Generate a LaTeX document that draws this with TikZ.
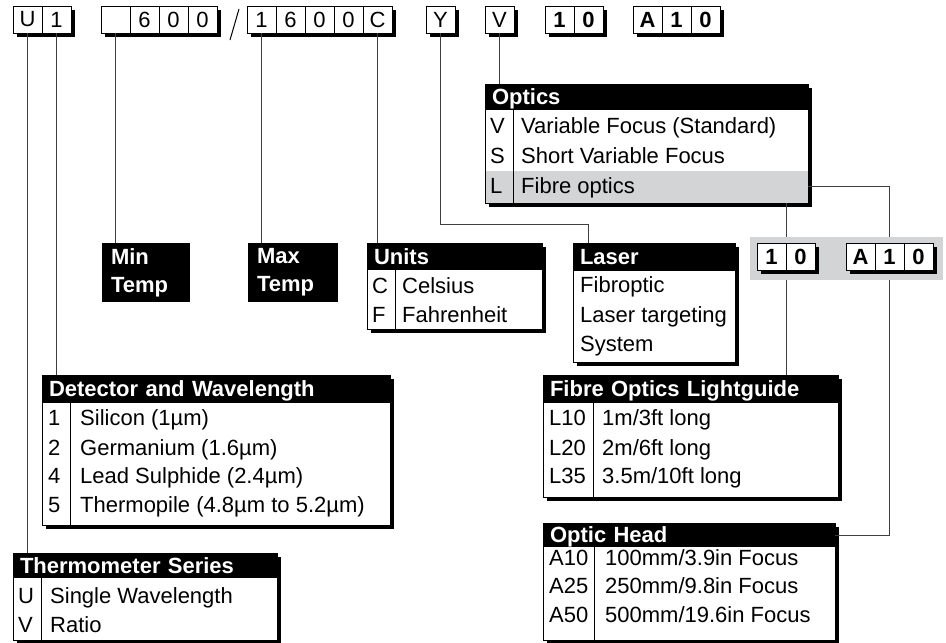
\documentclass[tikz,border=0pt]{standalone}
\usepackage{fontspec}
\setmainfont{Liberation Sans}
\usetikzlibrary{positioning,shadows}
\definecolor{cline}{HTML}{3F3F3F}
\definecolor{cpanel}{HTML}{D3D4D6}

\begin{document}
\begin{tikzpicture}[
  x=1pt, y=-1pt,
  every node/.style={font=\fontsize{22}{28}\selectfont},
  shadowed/.style={drop shadow={opacity=1, fill=black, shadow xshift=3.5pt, shadow yshift=-3.5pt}},
  cell/.style={draw, fill=white, line width=0.8pt, shadowed, minimum width=29, minimum height=27,
               inner sep=0pt, outer sep=0pt, font=\fontsize{22}{26}\selectfont},
  cellb/.style={cell, font=\fontsize{22}{26}\selectfont\bfseries},
  frame/.style={draw, fill=white, line width=0.8pt, shadowed, anchor=north west, inner sep=0pt, outer sep=0pt},
  head/.style={fill=black, text=white, anchor=north west, align=left, outer sep=0pt, inner xsep=7pt,
               inner ysep=0pt, text height=15, text depth=0, font=\fontsize{22}{28}\selectfont\bfseries},
  dark/.style={fill=black, text=white, anchor=north west, align=left, outer sep=0pt, inner xsep=9pt,
               minimum height=59, font=\fontsize{22}{28}\selectfont\bfseries},
  txt/.style={anchor=base west, inner sep=0pt},
  link/.style={draw=cline, line width=1pt},
  split/.style={draw=black, line width=0.8pt}
]
\useasboundingbox (0,0) rectangle (946,643);

% order code
\node[cell] (u) at (27.5,19.5) {U};
\node[cell, right=0pt of u] (one) {1};
\node[cell] (ga) at (115.5,19.5) {};
\node[cell, right=0pt of ga] (gsix) {6};
\node[cell, right=0pt of gsix] (gzero) {0};
\node[cell, right=0pt of gzero] (gzerob) {0};
\draw[line width=1pt] (230,40) -- (239,9);
\node[cell] (gb) at (261.5,19.5) {1};
\node[cell, right=0pt of gb] (hsix) {6};
\node[cell, right=0pt of hsix] (hzero) {0};
\node[cell, right=0pt of hzero] (hzerob) {0};
\node[cell, right=0pt of hzerob] (gc) {C};
\node[cell] (yc) at (440.5,19.5) {Y};
\node[cell] (vc) at (499.5,19.5) {V};
\node[cellb] (tone) at (559.5,19.5) {1};
\node[cellb, right=0pt of tone] (tzero) {0};
\node[cellb] (ta) at (647.5,19.5) {A};
\node[cellb, right=0pt of ta] (taone) {1};
\node[cellb, right=0pt of taone] (tazero) {0};

% optics
\node[frame, minimum width=323, minimum height=119] (optics) at (485,84) {};
\node[fill=cpanel, minimum width=322, minimum height=31.5, anchor=south, inner sep=0pt, outer sep=0pt]
  (lrow) at ([yshift=0.4pt]optics.south) {};
\node[head, minimum width=323, minimum height=26, text width=309] (oph) at (optics.north west) {Optics};
\draw[split] (513,110) -- (513,203);
\node[txt] (opv) at (490,133) {V};
\node[txt] (opvt) at (521,133) {Variable Focus (Standard)};
\node[txt] (ops) at (490,163) {S};
\node[txt] (opst) at (521,163) {Short Variable Focus};
\node[txt] (opl) at (490,193) {L};
\node[txt] (oplt) at (521,193) {Fibre optics};

% min / max temp
\node[dark, minimum width=88, text width=70] (mint) at (102,243) {Min\\Temp};
\node[dark, minimum width=90, text width=72] (maxt) at (248,243) {Max\\Temp};

% units
\node[frame, minimum width=175, minimum height=86] (units) at (367,243) {};
\node[head, minimum width=175, minimum height=27, text width=161] (unh) at (units.north west) {Units};
\draw[split] (395,270) -- (395,329);
\node[txt] (unc) at (372,293) {C};
\node[txt] (unct) at (402,293) {Celsius};
\node[txt] (unf) at (372,322) {F};
\node[txt] (unft) at (402,322) {Fahrenheit};

% laser
\node[frame, minimum width=162, minimum height=119] (laser) at (573,243) {};
\node[head, minimum width=162, minimum height=28, text width=148] (lah) at (laser.north west) {Laser};
\node[txt] (laa) at (580,292) {Fibroptic};
\node[txt] (lab) at (580,322) {Laser targeting};
\node[txt] (lac) at (580,351) {System};

% lightguide / optic head selector
\node[fill=cpanel, minimum width=193, minimum height=43, anchor=north west, inner sep=0pt, outer sep=0pt]
  (panel) at (750,237) {};
\node[cellb] (pone) at (771.5,256.5) {1};
\node[cellb, right=0pt of pone] (pzero) {0};
\node[cellb] (pa) at (860.5,256.5) {A};
\node[cellb, right=0pt of pa] (paone) {1};
\node[cellb, right=0pt of paone] (pazero) {0};

% detector
\node[frame, minimum width=348, minimum height=150] (det) at (42,375) {};
\node[head, minimum width=348, minimum height=28, text width=334] (deh) at (det.north west) {Detector and Wavelength};
\draw[split] (70,403) -- (70,525);
\node[txt] (dea) at (48,425) {1};
\node[txt] (deat) at (80,425) {Silicon (1µm)};
\node[txt] (deb) at (48,455) {2};
\node[txt] (debt) at (80,455) {Germanium (1.6µm)};
\node[txt] (dec) at (48,483) {4};
\node[txt] (dect) at (80,483) {Lead Sulphide (2.4µm)};
\node[txt] (ded) at (48,512) {5};
\node[txt] (dedt) at (80,512) {Thermopile (4.8µm to 5.2µm)};

% fibre optics lightguide
\node[frame, minimum width=295, minimum height=122] (fibre) at (543,375) {};
\node[head, minimum width=295, minimum height=28, text width=281] (fih) at (fibre.north west) {Fibre Optics Lightguide};
\draw[split] (593,403) -- (593,497);
\node[txt] (fia) at (549,425) {L10};
\node[txt] (fiat) at (602,425) {1m/3ft long};
\node[txt] (fib) at (549,455) {L20};
\node[txt] (fibt) at (602,455) {2m/6ft long};
\node[txt] (fic) at (549,483) {L35};
\node[txt] (fict) at (602,483) {3.5m/10ft long};

% optic head
\node[frame, minimum width=292, minimum height=117] (ohead) at (543,523) {};
\node[head, minimum width=292, minimum height=24, text width=278] (ohh) at (ohead.north west) {Optic Head};
\draw[split] (594,547) -- (594,640);
\node[txt] (oha) at (549,565) {A10};
\node[txt] (ohat) at (605,565) {100mm/3.9in Focus};
\node[txt] (ohb) at (549,593) {A25};
\node[txt] (ohbt) at (605,593) {250mm/9.8in Focus};
\node[txt] (ohc) at (549,622) {A50};
\node[txt] (ohct) at (605,622) {500mm/19.6in Focus};

% thermometer series
\node[frame, minimum width=264, minimum height=87] (therm) at (13,553) {};
\node[head, minimum width=264, minimum height=25, text width=250] (thh) at (therm.north west) {Thermometer Series};
\draw[split] (41,578) -- (41,640);
\node[txt] (tha) at (18,603) {U};
\node[txt] (that) at (50,603) {Single Wavelength};
\node[txt] (thb) at (18,632) {V};
\node[txt] (thbt) at (50,632) {Ratio};

% links
\coordinate (ybend) at (588,224);
\draw[link] (u.south) -- (u.south |- therm.north);
\draw[link] (one.south) -- (one.south |- det.north);
\draw[link] (ga.south) -- (ga.south |- mint.north);
\draw[link] (gb.south) -- (gb.south |- maxt.north);
\draw[link] (gc.south) -- (gc.south |- units.north);
\draw[link] (yc.south) |- (ybend) -- (ybend |- laser.north);
\draw[link] (vc.south) -- (vc.south |- optics.north);
\draw[link] (optics.south -| pone.east) -- (panel.north -| pone.east);
\draw[link] (panel.south -| pone.east) -- (fibre.north -| pone.east);
\draw[link] (optics.east |- lrow.east) -| (panel.north -| paone.center);
\draw[link] (panel.south -| paone.center) |- (ohh.east);
\end{tikzpicture}
\end{document}
